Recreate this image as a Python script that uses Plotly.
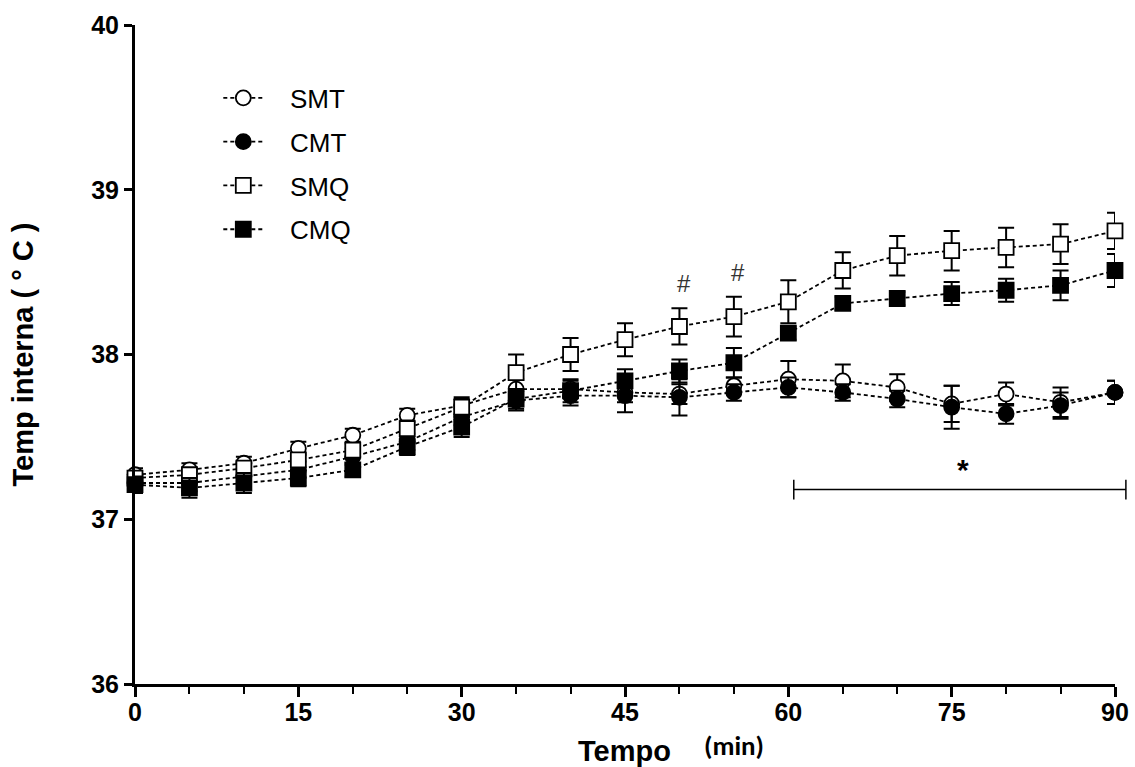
import plotly.graph_objects as go

time_min = [0, 5, 10, 15, 20, 25, 30, 35, 40, 45, 50, 55, 60, 65, 70, 75, 80, 85, 90]

smt = [37.27, 37.30, 37.34, 37.43, 37.51, 37.63, 37.69, 37.79, 37.79, 37.77, 37.76, 37.81, 37.85, 37.84, 37.80, 37.70, 37.76, 37.71, 37.77]
smt_err = [0.04, 0.04, 0.04, 0.04, 0.04, 0.04, 0.05, 0.06, 0.05, 0.06, 0.06, 0.05, 0.11, 0.10, 0.08, 0.11, 0.07, 0.09, 0.07]

cmt = [37.22, 37.22, 37.26, 37.30, 37.38, 37.47, 37.62, 37.72, 37.75, 37.75, 37.74, 37.77, 37.80, 37.77, 37.73, 37.68, 37.64, 37.69, 37.77]
cmt_err = [0.05, 0.05, 0.05, 0.05, 0.05, 0.05, 0.05, 0.06, 0.06, 0.10, 0.11, 0.05, 0.06, 0.05, 0.05, 0.13, 0.06, 0.08, 0.07]

smq = [37.25, 37.27, 37.31, 37.36, 37.42, 37.55, 37.68, 37.89, 38.00, 38.09, 38.17, 38.23, 38.32, 38.51, 38.60, 38.63, 38.65, 38.67, 38.75]
smq_err = [0.04, 0.04, 0.04, 0.04, 0.04, 0.05, 0.05, 0.11, 0.10, 0.10, 0.11, 0.12, 0.13, 0.11, 0.12, 0.12, 0.12, 0.12, 0.11]

cmq = [37.21, 37.19, 37.22, 37.25, 37.30, 37.44, 37.56, 37.73, 37.78, 37.84, 37.90, 37.95, 38.13, 38.31, 38.34, 38.37, 38.39, 38.42, 38.51]
cmq_err = [0.05, 0.06, 0.06, 0.05, 0.04, 0.05, 0.06, 0.06, 0.07, 0.07, 0.07, 0.09, 0.04, 0.04, 0.04, 0.07, 0.07, 0.09, 0.10]

series_names = ["SMT", "CMT", "SMQ", "CMQ"]
x_major_ticks = [0, 15, 30, 45, 60, 75, 90]
y_ticks = [36, 37, 38, 39, 40]

X_MIN, X_MAX = 0, 90
Y_MIN, Y_MAX = 36, 40

FONT = "Liberation Sans, Arial, sans-serif"
NBSP = "\u00a0"

fig = go.Figure()

styles = [
    (smt, smt_err, "circle", "white"),
    (cmt, cmt_err, "circle", "black"),
    (smq, smq_err, "square", "white"),
    (cmq, cmq_err, "square", "black"),
]

for name, (vals, errs, sym, fill) in zip(series_names, styles):
    fig.add_trace(go.Scatter(
        x=time_min, y=vals, name=NBSP * 3 + name, mode="lines+markers",
        legendgroup=name,
        line=dict(color="black", width=1.8, dash="4px,3px"),
        marker=dict(symbol=sym, size=15, color=fill, line=dict(color="black", width=1.8)),
        error_y=dict(type="data", array=errs, visible=True, color="black",
                     thickness=2, width=8),
        cliponaxis=False,
    ))


def xp(v):
    return (v - X_MIN) / (X_MAX - X_MIN)


# significance bracket (paper x so it can extend past the axis end)
bracket_x0, bracket_x1, bracket_y = 60.5, 91.0, 37.18
fig.add_shape(type="line", x0=xp(bracket_x0), x1=xp(bracket_x1), y0=bracket_y, y1=bracket_y,
              xref="paper", yref="y", line=dict(color="black", width=1.5))
for bx in (bracket_x0, bracket_x1):
    fig.add_shape(type="line", x0=xp(bx), x1=xp(bx), y0=bracket_y - 0.06, y1=bracket_y + 0.06,
                  xref="paper", yref="y", line=dict(color="black", width=1.5))
fig.add_annotation(x=76.0, y=37.30, text="*", showarrow=False, xref="x", yref="y",
                   font=dict(family=FONT, size=30, color="black", weight="bold"))
for xv, yv in [(50.4, 38.43), (55.4, 38.50)]:
    fig.add_annotation(x=xv, y=yv, text="#", showarrow=False, xref="x", yref="y",
                       font=dict(family=FONT, size=24, color="#333"))

# x title
fig.add_annotation(x=(624 - 135) / 980, y=(684 - 751) / 659, xref="paper", yref="paper",
                   text="Tempo", showarrow=False, yanchor="middle",
                   font=dict(family=FONT, size=29, color="black", weight="bold"))
fig.add_annotation(x=(734 - 135) / 980, y=(684 - 746) / 659, xref="paper", yref="paper",
                   text="(min)", showarrow=False, yanchor="middle",
                   font=dict(family="Carlito, Calibri, " + FONT, size=27, color="black", weight="bold"))

fig.update_layout(
    width=1135, height=767,
    margin=dict(l=135, r=20, t=25, b=83),
    plot_bgcolor="white", paper_bgcolor="white",
    showlegend=True,
    legend=dict(x=0.085, y=0.925, xanchor="left", yanchor="top",
                font=dict(family=FONT, size=26, color="black"),
                bgcolor="rgba(0,0,0,0)", tracegroupgap=7,
                itemwidth=40),
    xaxis=dict(range=[X_MIN, X_MAX], tickvals=x_major_ticks, showgrid=False, zeroline=False,
               showline=True, linecolor="black", linewidth=3, automargin=False,
               ticks="outside", ticklen=10, tickwidth=3, tickcolor="black",
               ticklabelstandoff=-6,
               tickfont=dict(family=FONT, size=25, color="black", weight="bold"),
               minor=dict(dtick=5, ticks="outside", ticklen=7, tickwidth=2, tickcolor="black"),
               anchor="y"),
    yaxis=dict(range=[Y_MIN, Y_MAX], tickvals=y_ticks, showgrid=False, zeroline=False,
               showline=True, linecolor="black", linewidth=3, automargin=False,
               ticks="outside", ticklen=8, tickwidth=3, tickcolor="black",
               tickfont=dict(family=FONT, size=25, color="black", weight="bold"),
               title=dict(text="Temp interna ( ° C )", standoff=50,
                          font=dict(family=FONT, size=29, color="black", weight="bold"))),
)

fig.write_html("out.html")
